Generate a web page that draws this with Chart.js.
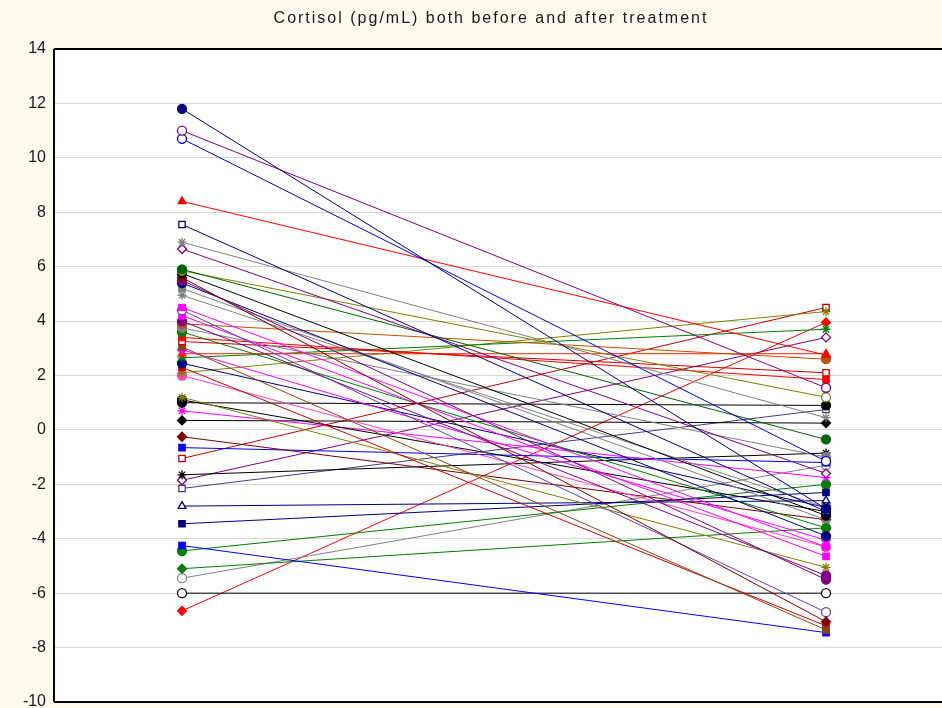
<!DOCTYPE html>
<html><head><meta charset="utf-8">
<script src="https://cdn.jsdelivr.net/npm/chart.js@4/dist/chart.umd.min.js"></script>
<style>html,body{margin:0;padding:0;background:#fdf9ee;overflow:hidden}</style>
</head><body>
<canvas id="c" width="942" height="708"></canvas>
<script>
const chartTitle = 'Cortisol (pg/mL) both before and after treatment';
const timepoints = [1, 2]; // before, after
const before = [11.8, 11.0, 10.7, 8.4, 7.55, 6.9, 6.65, 5.9, 5.85, 5.75, 5.6, 5.5, 5.4, 5.2, 4.95, 4.5, 4.4, 4.2, 4.0, 3.9, 3.75, 3.6, 3.4, 3.25, 3.05, 2.95, 2.8, 2.65, 2.45, 2.3, 2.1, 2.0, 1.2, 1.1, 1.0, 0.7, 0.35, -0.25, -0.65, -1.05, -1.65, -1.85, -2.15, -2.8, -3.45, -4.25, -4.45, -5.1, -5.45, -6.0, -6.65];
const after  = [-2.9, 1.55, -1.15, 2.75, -3.0, 0.45, -1.6, -0.35, 1.2, -3.15, -7.05, -5.5, -3.9, -3.3, -2.85, -4.3, -6.7, -4.65, -5.35, 2.6, -1.0, -3.6, 1.85, 2.1, -7.35, -4.05, 2.8, 3.7, -2.85, -7.2, 4.35, -4.3, -5.05, -3.0, 0.9, -1.75, 0.25, -3.3, -1.2, 4.5, -0.85, 3.4, 0.75, -2.6, -2.3, -7.45, -2.0, -3.6, -1.3, -6.0, 3.95];
const lineColors = ['#000080','#800080','#0000cd','#ff0000','#000080','#808080','#800080','#006400','#808000','#000000','#800000','#800080','#000080','#808080','#808080','#ff00ff','#6040c0','#ff00ff','#800080','#c05000','#808080','#008000','#ff0000','#cc0000','#8b4513','#ff00ff','#ff2000','#008000','#000080','#cc0000','#808000','#ff40c0','#808000','#000000','#000000','#ff00ff','#000000','#800000','#0000ff','#c00000','#000000','#800080','#404080','#000080','#000080','#0000ff','#008000','#008000','#808080','#000000','#ff0000'];
const markerStyles = ['circle','circle','circle','triangle','rect','star','rectRot','circle','circle','circle','rectRot','circle','circle','rect','star','rect','circle','rect','circle','circle','circle','circle','rect','rect','rect','rectRot','triangle','star','circle','rect','star','circle','star','circle','circle','star','rectRot','rectRot','rect','rect','star','rectRot','rect','triangle','rect','rect','circle','rectRot','circle','circle','rectRot'];
const markerOpen = [0,1,1,0,1,0,1,0,1,0,0,0,0,0,1,0,1,0,0,0,0,0,0,1,0,0,0,0,0,0,0,0,0,0,0,0,0,0,0,1,0,1,1,1,0,0,0,0,1,1,0];
const yTicks = [14, 12, 10, 8, 6, 4, 2, 0, -2, -4, -6, -8, -10];

const datasets = before.map((b, i) => ({
  data: [{x: timepoints[0], y: b}, {x: timepoints[1], y: after[i]}],
  borderColor: lineColors[i],
  backgroundColor: markerOpen[i] ? '#ffffff' : lineColors[i],
  pointBorderColor: lineColors[i],
  pointBackgroundColor: markerOpen[i] ? '#ffffff' : lineColors[i],
  pointStyle: markerStyles[i],
  pointRadius: 4.5,
  pointBorderWidth: 1.3,
  borderWidth: 1,
  tension: 0
}));

const frame = {
  id: 'frame',
  beforeDraw(chart) {
    const {ctx, chartArea: a} = chart;
    ctx.save();
    ctx.fillStyle = '#fdf9ee';
    ctx.fillRect(0, 0, chart.width, chart.height);
    ctx.fillStyle = '#ffffff';
    ctx.fillRect(a.left, a.top, a.right - a.left, a.bottom - a.top);
    ctx.restore();
  },
  beforeDatasetsDraw(chart) {
    const {ctx, chartArea: a} = chart;
    ctx.save();
    ctx.strokeStyle = '#000';
    ctx.lineWidth = 2;
    ctx.beginPath();
    ctx.moveTo(a.left, a.top); ctx.lineTo(a.right, a.top);
    ctx.moveTo(a.left, a.top); ctx.lineTo(a.left, a.bottom);
    ctx.moveTo(a.left, a.bottom); ctx.lineTo(a.right, a.bottom);
    ctx.stroke();
    ctx.restore();
  },
  afterDraw(chart) {
    const ctx = chart.ctx;
    ctx.save();
    ctx.font = '16px "Liberation Sans", Arial, sans-serif';
    ctx.letterSpacing = '2px';
    ctx.fillStyle = '#1a1a1a';
    ctx.textAlign = 'center';
    ctx.textBaseline = 'middle';
    ctx.fillText(chartTitle, 491, 19);
    ctx.restore();
  }
};

new Chart(document.getElementById('c'), {
  type: 'line',
  data: { datasets },
  options: {
    responsive: false,
    animation: false,
    devicePixelRatio: 1,
    layout: { autoPadding: false, padding: { top: 49, right: 0, bottom: 6, left: 0 } },
    plugins: { legend: { display: false }, tooltip: { enabled: false }, title: { display: false } },
    scales: {
      x: { type: 'linear', min: 0.8012, max: 2.1801, display: false },
      y: {
        type: 'linear', min: -10, max: 14,
        afterBuildTicks(s) { s.ticks = yTicks.map(v => ({ value: v })); },
        afterFit(s) { s.width = 54; s.paddingTop = 0; s.paddingBottom = 0; },
        ticks: { padding: 8, color: '#1a1a1a', font: { family: '"Liberation Sans", Arial, sans-serif', size: 16 } },
        grid: { color: '#d6d6d6', lineWidth: 1, drawTicks: false },
        border: { display: false }
      }
    }
  },
  plugins: [frame]
});
</script>
</body></html>
